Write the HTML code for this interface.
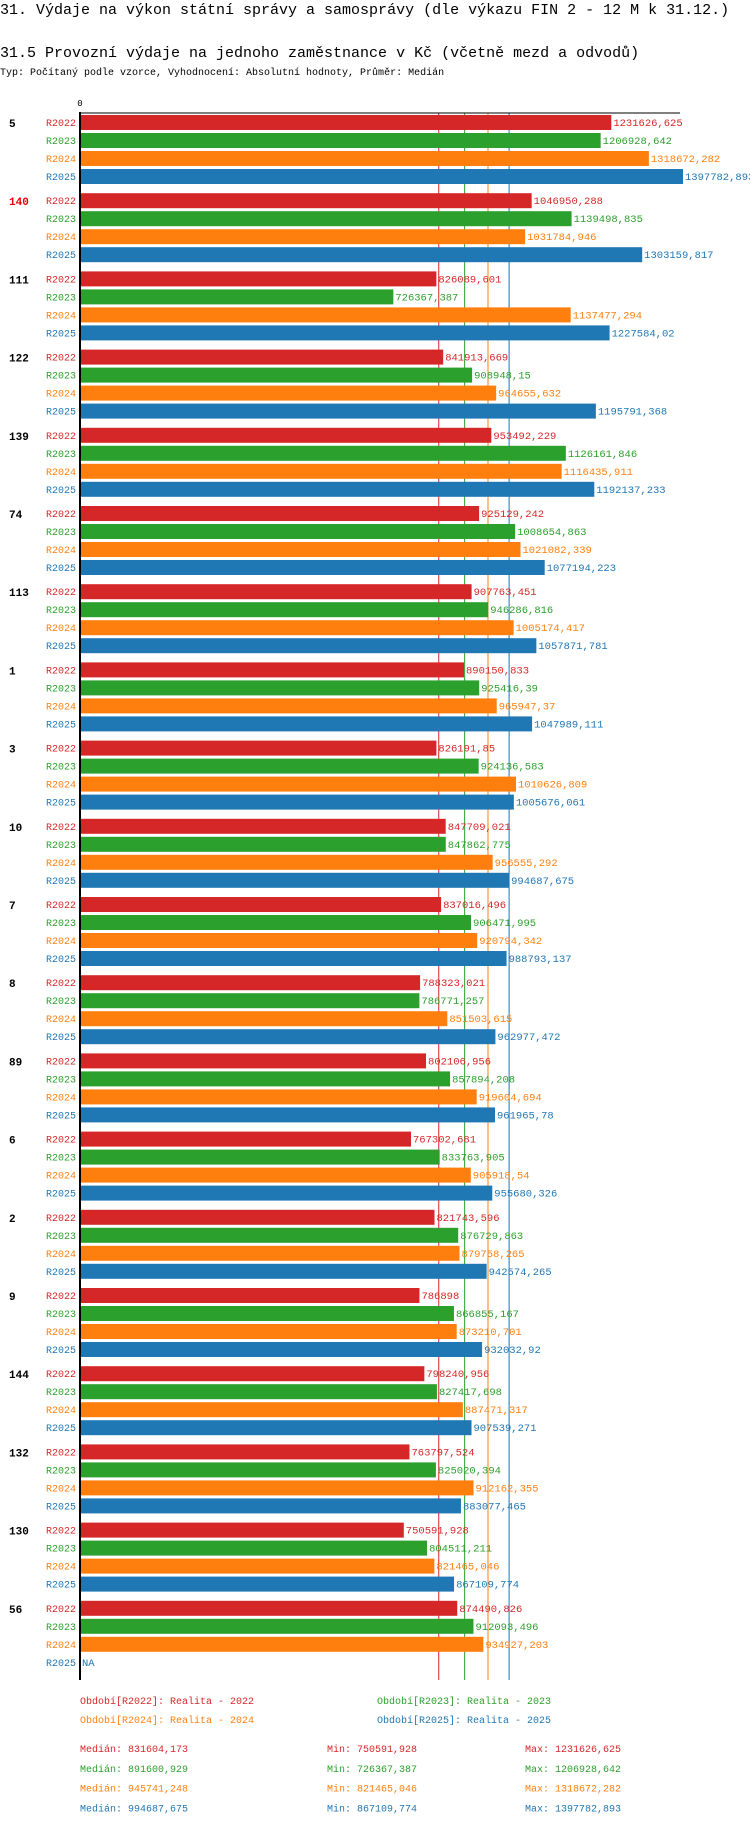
<!DOCTYPE html>
<html><head><meta charset="utf-8"><style>
body{margin:0;background:#fff}
svg text{font-family:"Liberation Mono",monospace}
</style></head><body>
<svg id="c" width="750" height="1824" xmlns="http://www.w3.org/2000/svg">
<text x="0" y="14" font-size="15" fill="#000">31. Výdaje na výkon státní správy a samosprávy (dle výkazu FIN 2 - 12 M k 31.12.)</text>
<text x="0" y="57" font-size="15" fill="#000">31.5 Provozní výdaje na jednoho zaměstnance v Kč (včetně mezd a odvodů)</text>
<text x="0" y="75" font-size="10" fill="#000">Typ: Počítaný podle vzorce, Vyhodnocení: Absolutní hodnoty, Průměr: Medián</text>
<g id="grid"></g><g id="bars"></g>
</svg>
<script>
const categories=["5","140","111","122","139","74","113","1","3","10","7","8","89","6","2","9","144","132","130","56"];
const series=["R2022","R2023","R2024","R2025"];
const v2022=[1231626.625,1046950.288,826089.601,841913.669,953492.229,925129.242,907763.451,890150.833,826191.85,847709.021,837016.496,788323.021,802106.956,767302.681,821743.596,786898,798240.956,763797.524,750591.928,874490.826];
const v2023=[1206928.642,1139498.835,726367.387,908948.15,1126161.846,1008654.863,946286.816,925416.39,924136.583,847862.775,906471.995,786771.257,857894.208,833763.905,876729.863,866855.167,827417.698,825020.394,804511.211,912093.496];
const v2024=[1318672.282,1031784.946,1137477.294,964655.632,1116435.911,1021082.339,1005174.417,965947.37,1010626.809,956555.292,920794.342,851503.615,919604.694,905918.54,879758.265,873210.701,887471.317,912162.355,821465.046,934927.203];
const v2025=[1397782.893,1303159.817,1227584.02,1195791.368,1192137.233,1077194.223,1057871.781,1047989.111,1005676.061,994687.675,988793.137,962977.472,961965.78,955680.326,942574.265,932032.92,907539.271,883077.465,867109.774,null];
const medians=[831604.173,891600.929,945741.248,994687.675];
const mins=["750591,928","726367,387","821465,046","867109,774"];
const maxs=["1231626,625","1206928,642","1318672,282","1397782,893"];
const medianLabels=["831604,173","891600,929","945741,248","994687,675"];
const colors=["#d62728","#2ca02c","#ff7f0e","#1f77b4"];
const vals=[v2022,v2023,v2024,v2025];
const NS="http://www.w3.org/2000/svg";
const X0=80,XS=(683-80)/1397782.893;
const x=v=>X0+v*XS;
const gy=i=>115+i*78.2;
const svg=document.getElementById('c'),grid=document.getElementById('grid'),bars=document.getElementById('bars');
function mk(t,a,p){const e=document.createElementNS(NS,t);for(const k in a)e.setAttribute(k,a[k]);(p||svg).appendChild(e);return e;}
const fmt=v=>String(v).replace('.',',');
medians.forEach((m,k)=>{
 const l=mk('line',{x1:x(m),x2:x(m),y1:113,y2:1680,stroke:colors[k],'stroke-width':1},grid);
 
 
});
categories.forEach((c,i)=>{
 const t=mk('text',{x:9,y:gy(i)+12,'font-size':11,'font-weight':'bold',fill:c==="140"?"#e00":"#000"},bars);t.textContent=c;
 
 
 series.forEach((s,j)=>{
  const y=gy(i)+j*18,v=vals[j][i];
  const lb=mk('text',{x:76,y:y+11,'font-size':10,'text-anchor':'end',fill:colors[j]},bars);lb.textContent=s;
  
  
  if(v!=null){
   const r=mk('rect',{x:X0,y:y,width:x(v)-X0,height:15,fill:colors[j]},bars);
   
   
  }
  const vt=mk('text',{x:(v!=null?x(v):X0)+2,y:y+11,'font-size':10.5,fill:colors[j]},bars);vt.textContent=v!=null?fmt(v):"NA";
  
  
 });
});
const ax=mk('line',{x1:X0,x2:X0,y1:112,y2:1680,stroke:'#000','stroke-width':2});


const tx=mk('line',{x1:X0,x2:680,y1:113,y2:113,stroke:'#000','stroke-width':1});


const z=mk('text',{x:X0,y:106,'font-size':9,'text-anchor':'middle',fill:'#000'});z.textContent="0";


const years=["2022","2023","2024","2025"];
series.forEach((s,k)=>{
 const lx=k%2===0?80:377,ly=k<2?1704:1723;
 const t=mk('text',{x:lx,y:ly,'font-size':10,fill:colors[k]});t.textContent="Období["+s+"]: Realita - "+years[k];
 
 
 const sy=1752+k*19.8;
 const a=mk('text',{x:80,y:sy,'font-size':10,fill:colors[k]});a.textContent="Medián: "+medianLabels[k];
 
 
 const b=mk('text',{x:327,y:sy,'font-size':10,fill:colors[k]});b.textContent="Min: "+mins[k];
 
 
 const d=mk('text',{x:525,y:sy,'font-size':10,fill:colors[k]});d.textContent="Max: "+maxs[k];
 
 
});
</script>
</body></html>
